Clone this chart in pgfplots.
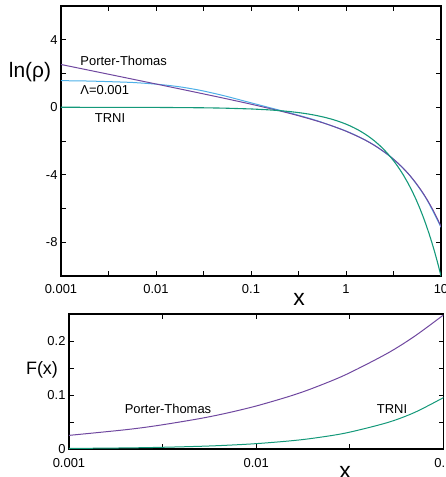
\documentclass[border=0pt]{standalone}
\usepackage{fontspec}
\setmainfont{Liberation Sans}
\usepackage{pgfplots}
\pgfplotsset{compat=1.18}
\definecolor{ptc}{HTML}{7048A0}
\definecolor{trc}{HTML}{14997A}
\definecolor{lac}{HTML}{4DB0E8}
\newcommand{\fs}[1]{\fontsize{#1}{#1}\selectfont}

\begin{document}
\begin{tikzpicture}[x=1bp,y=1bp]
\pgfplotsset{every axis/.append style={
  scale only axis, xmode=log, axis line style={line width=1.3bp},
  tick style={line width=0.9bp, black}, major tick length=5bp,
  tick align=inside, minor xtick={}, minor ytick={},
  /pgf/number format/assume math mode=true,
  tick label style={font=\fs{13}},
  clip=true,
}}
% upper panel: ln(rho)
\begin{axis}[at={(61bp,-276bp)}, anchor=south west,
  width=380bp, height=270bp,
  xmin=0.001, xmax=10, ymin=-10, ymax=6,
  xtick={0.001,0.003162,0.01,0.03162,0.1,0.3162,1,3.162,10},
  xticklabels={0.001,,0.01,,0.1,,1,,10},
  xticklabel style={yshift=-5bp},
  ytick={-8,-6,-4,-2,0,2,4},
  yticklabels={-8,,-4,,0,,4}]
\addplot[lac, line width=1bp, smooth] coordinates {
 (0.001,1.5756) (0.002,1.5516) (0.005,1.4810) (0.007,1.4355) (0.01,1.3693)
 (0.015,1.2645) (0.02,1.1666) (0.03,0.9903) (0.05,0.7065) (0.07,0.4945)
 (0.1,0.2638) (0.2,-0.1759) (0.3,-0.4392) (0.5,-0.8033) (1,-1.4081)
 (1.5,-1.8651) (2,-2.2625) (3,-2.9713) (4,-3.6207) (5,-4.2378) (7,-5.4169) (10,-7.1110)};
\addplot[ptc, line width=1bp, smooth] coordinates {
 (0.001,2.5345) (0.002,2.1874) (0.005,1.7278) (0.01,1.3787) (0.02,1.0271)
 (0.05,0.5540) (0.1,0.1824) (0.2,-0.2142) (0.3,-0.4669) (0.5,-0.8223)
 (0.7,-1.0906) (1,-1.4189) (1.5,-1.8716) (2,-2.2655) (2.5,-2.6270)
 (3,-2.9682) (3.5,-3.2953) (4,-3.6120) (4.5,-3.9209) (5,-4.2236)
 (5.5,-4.5213) (6,-4.8148) (6.5,-5.1048) (7,-5.3919) (7.5,-5.6763)
 (8,-5.9586) (8.5,-6.2389) (9,-6.5175) (9.5,-6.7946) (10,-7.0702)};
\addplot[trc, line width=1.1bp] coordinates {
 (0.001,-0.001) (0.01,-0.01) (0.03,-0.03) (0.05,-0.05) (0.1,-0.1) (0.15,-0.15)
 (0.2,-0.2) (0.25,-0.25) (0.3,-0.3) (0.35,-0.35) (0.4,-0.4) (0.45,-0.45)
 (0.5,-0.5) (0.6,-0.6) (0.7,-0.7) (0.8,-0.8) (0.9,-0.9) (1,-1) (1.1,-1.1)
 (1.2,-1.2) (1.3,-1.3) (1.4,-1.4) (1.6,-1.6) (1.8,-1.8) (2,-2) (2.25,-2.25)
 (2.5,-2.5) (2.75,-2.75) (3,-3) (3.25,-3.25) (3.5,-3.5) (3.75,-3.75) (4,-4)
 (4.5,-4.5) (5,-5) (5.5,-5.5) (6,-6) (6.5,-6.5) (7,-7) (7.5,-7.5) (8,-8)
 (8.5,-8.5) (9,-9) (9.5,-9.5) (10,-10)};
\node[anchor=west, font=\fs{13}] at (rel axis cs:0.042,0.796) {Porter-Thomas};
\node[anchor=west, font=\fs{13}] at (rel axis cs:0.042,0.687) {Λ=0.001};
\node[font=\fs{13}] at (rel axis cs:0.129,0.585) {TRNI};
\end{axis}
\node[font=\fs{21}] at (30bp,-72bp) {ln(ρ)};
\node[font=\fs{23}] at (299bp,-299bp) {x};
% lower panel: F(x)
\begin{axis}[at={(69bp,-449bp)}, anchor=south west,
  width=374.5bp, height=135bp,
  xmin=0.001, xmax=0.1, ymin=0, ymax=0.25,
  xtick={0.001,0.003162,0.01,0.03162,0.1},
  xticklabels={0.001,,0.01,,0.1},
  xticklabel style={yshift=-6bp},
  ytick={0,0.05,0.1,0.15,0.2},
  yticklabels={0,,0.1,,0.2}]
\addplot[ptc, line width=1bp, smooth] coordinates {
 (0.001,0.025227) (0.002,0.035671) (0.003,0.043681) (0.005,0.056372)
 (0.007,0.066678) (0.01,0.079656) (0.015,0.097477) (0.02,0.112463)
 (0.03,0.137510) (0.05,0.176937) (0.07,0.208665) (0.1,0.248171)};
\addplot[trc, line width=1bp, smooth] coordinates {
 (0.001,0.0009995) (0.002,0.001998) (0.003,0.002996) (0.005,0.004988)
 (0.007,0.006976) (0.01,0.00995) (0.015,0.014888) (0.02,0.019801)
 (0.03,0.029554) (0.05,0.048771) (0.07,0.067606) (0.1,0.095163)};
\node[font=\fs{13}] at (rel axis cs:0.2644,0.296) {Porter-Thomas};
\node[font=\fs{13}] at (rel axis cs:0.8625,0.296) {TRNI};
\end{axis}
\node[font=\fs{18}] at (42bp,-370bp) {F(x)};
\node[font=\fs{23}] at (345bp,-472bp) {x};
\pgfresetboundingbox
\path[use as bounding box] (0,0) rectangle (446bp,-477bp);
\end{tikzpicture}
\end{document}
